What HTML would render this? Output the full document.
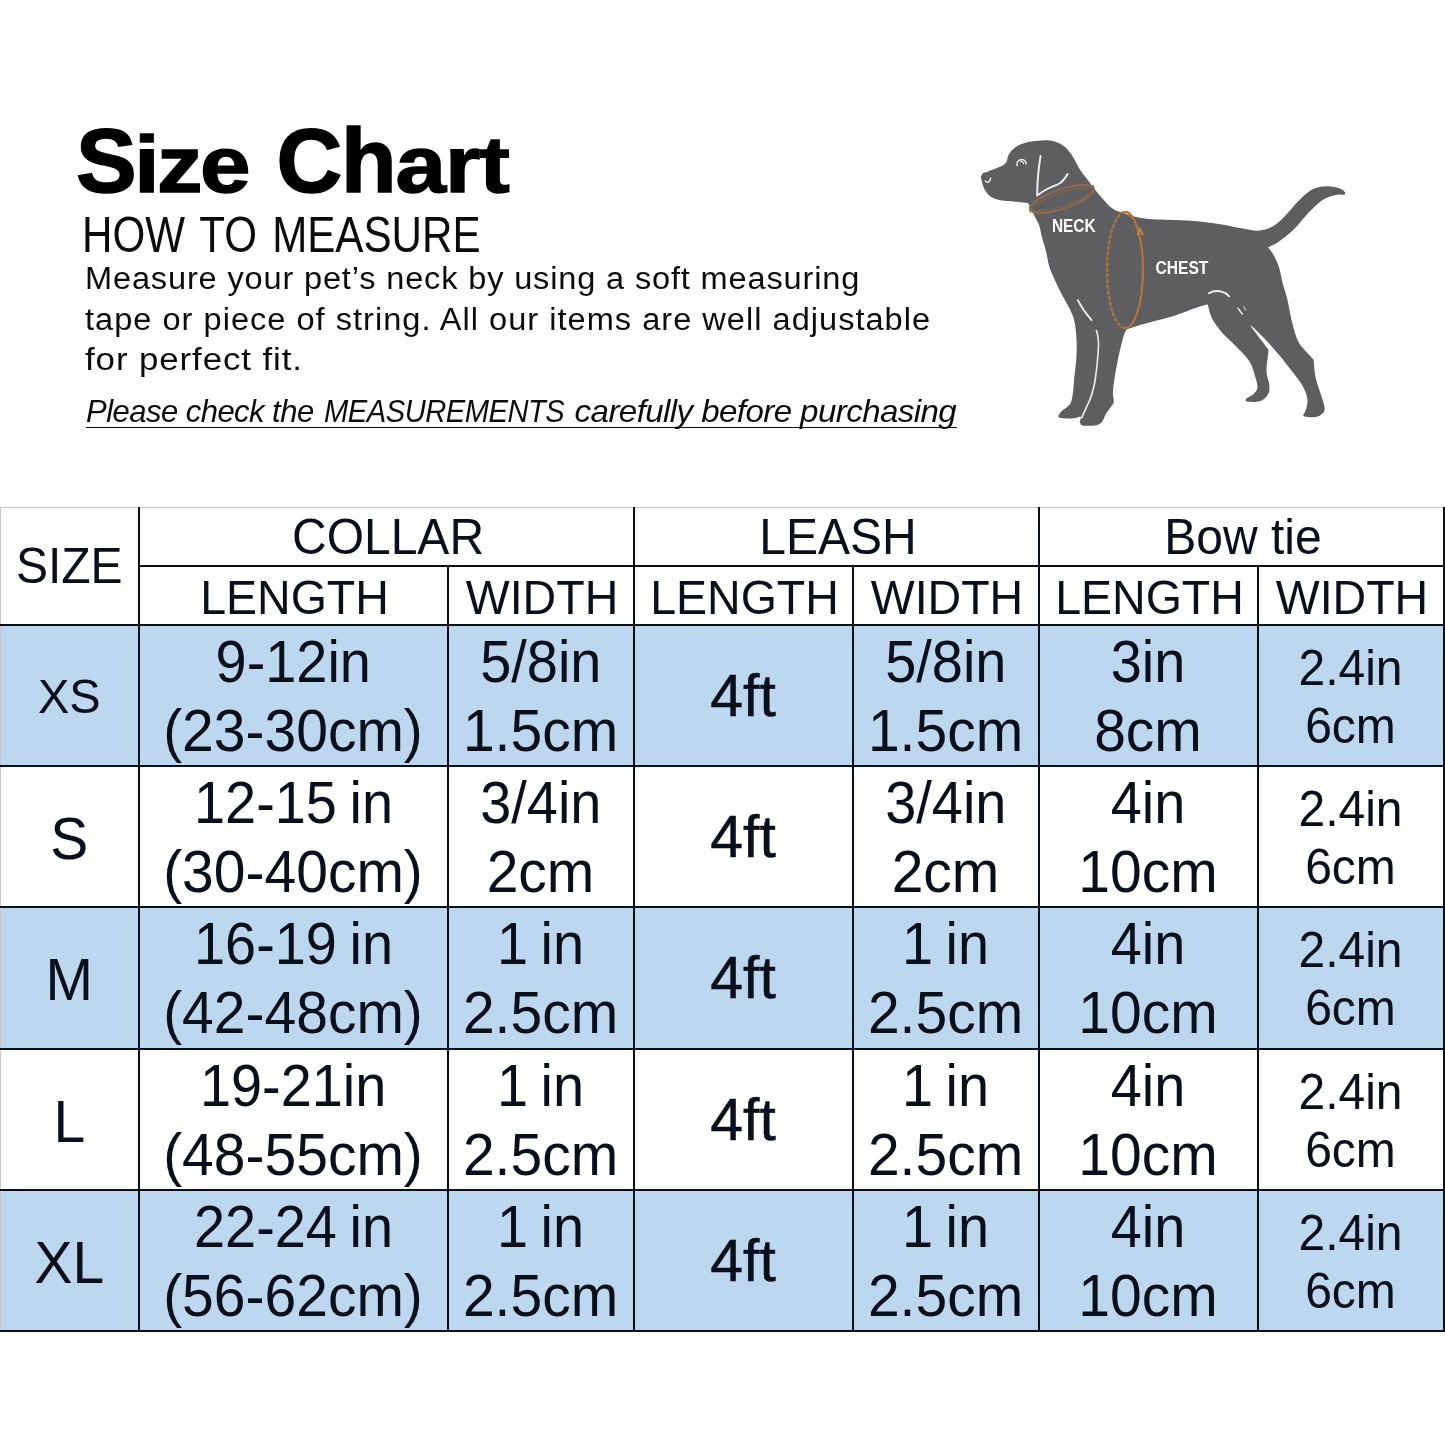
<!DOCTYPE html>
<html lang="en">
<head>
<meta charset="utf-8">
<title>Size Chart</title>
<style>
html,body{margin:0;padding:0;background:#fff;}
body{width:1445px;height:1445px;position:relative;overflow:hidden;font-family:"Liberation Sans",sans-serif;color:#000;}
.abs{position:absolute;white-space:nowrap;transform-origin:0 0;line-height:1;}
.t{font-size:91px;font-weight:bold;-webkit-text-stroke:1.6px #000;top:115px;}
.lc{display:inline-block;transform:scaleY(0.885);transform-origin:0 77px;}
#t1{left:76px;letter-spacing:-2.5px;}
#t2{left:276.5px;letter-spacing:-1.1px;}
#how{left:81.5px;top:210px;font-size:50.3px;color:#0c0c0c;transform:scaleX(0.838);word-spacing:4px;}
.p{font-size:31px;color:#0c0c0c;left:85px;transform:scaleX(1.05);letter-spacing:0.8px;}
#p1{top:263px;}
#p2{top:303.5px;letter-spacing:0.97px;}
#p3{top:343.5px;transform:scaleX(1.125);}
#note{left:86px;top:395.5px;font-size:31.5px;font-style:italic;color:#0c0c0c;transform:scaleX(1.0);letter-spacing:-0.55px;}
.n{position:absolute;top:0;transform-origin:0 0;white-space:pre;}
#n1{left:0;transform:scaleX(0.985);}
#n2{left:238px;transform:scaleX(0.926);}
#n3{left:480px;transform:scaleX(1.05);}
#noteline{position:absolute;left:86px;top:426.5px;width:871px;height:1.8px;background:#111;}
#dog{position:absolute;left:960px;top:120px;width:420px;height:330px;}
#dog text{font-family:"Liberation Sans",sans-serif;font-weight:bold;fill:#fff;}

table{position:absolute;left:0;top:507px;border-collapse:collapse;table-layout:fixed;width:1443px;font-family:"Liberation Sans",sans-serif;color:#0a0f1c;}
td,th{padding:0;text-align:center;vertical-align:top;font-weight:normal;border:2px solid #0a0f1c;overflow:hidden;white-space:nowrap;}
tr.h1 th{height:57px;font-size:48px;line-height:57px;border-top:1px solid #c8c8c8;}
tr.h2 th{height:57px;font-size:47px;line-height:57px;}
th.sz,td.sz{border-left:1px solid #c8c8c8;}
tr.r td{height:139px;font-size:57px;line-height:66px;}
tr.r3 td{height:140px;}
tr.b td{background:#bdd7ee;}
tr.r td.sz{font-size:47px;line-height:139px;}
tr.r td.sm{font-size:48px;line-height:56px;}
tr.r td.ft{font-size:59px;line-height:139px;-webkit-text-stroke:0.5px #0a0f1c;}
td div,th div{position:relative;transform:scaleY(1.04);}
th.sz div{line-height:116px;}
tr.h1 th:not(.sz) div{left:2px;}
tr.h2 th div{transform:scale(0.99,1.04);left:1px;top:0.5px;}
tr.r td div{top:4px;}
.l1{display:inline-block;transform:scaleX(0.98);word-spacing:-3px;}
td.sm .l1{transform:none;}
tr.r td.sz div{top:0px;}
tr.r td.big{font-size:57px;}
tr.r td.big div{top:2px;}
tr.r td.sm div{top:15px;}
tr.r td.ft div{top:1px;transform:none;}
</style>
</head>
<body>
<div id="t1" class="abs t">S<span class="lc">ize</span></div><div id="t2" class="abs t">Ch<span class="lc">art</span></div>
<div id="how" class="abs">HOW TO MEASURE</div>
<div id="p1" class="abs p">Measure your pet’s neck by using a soft measuring</div>
<div id="p2" class="abs p">tape or piece of string. All our items are well adjustable</div>
<div id="p3" class="abs p">for perfect fit.</div>
<div id="note" class="abs"><span class="n" id="n1">Please check the </span><span class="n" id="n2">MEASUREMENTS</span><span class="n" id="n3"> carefully before purchasing</span></div>
<div id="noteline"></div>

<svg id="dog" viewBox="960 120 420 330">
<path d="M980.8 176.7C981.5 175.5 981.8 174.1 983.0 173.2C984.2 172.3 984.4 173.0 988.0 171.5C991.6 170.0 1001.1 167.1 1004.6 164.3C1008.1 161.5 1006.9 157.5 1008.8 154.6C1010.6 151.7 1012.5 149.1 1015.7 147.0C1018.9 144.9 1023.7 143.2 1028.1 142.1C1032.5 141.0 1037.8 140.7 1042.0 140.5C1046.2 140.3 1049.3 140.0 1053.0 141.0C1056.7 142.0 1060.9 143.8 1064.1 146.3C1067.3 148.8 1069.9 152.3 1072.4 156.0C1074.9 159.7 1077.0 164.7 1079.3 168.4C1081.6 172.1 1083.8 174.6 1086.3 178.1C1088.8 181.6 1091.8 185.7 1094.6 189.2C1097.4 192.7 1099.9 195.7 1102.9 198.9C1105.9 202.1 1109.4 206.3 1112.6 208.6C1115.8 210.9 1118.3 211.3 1122.2 212.7C1126.1 214.1 1131.5 215.8 1136.1 216.9C1140.7 218.0 1145.9 218.6 1149.9 219.0C1153.9 219.4 1154.8 219.4 1160.0 219.6C1165.2 219.8 1173.9 220.0 1180.8 220.3C1187.7 220.7 1194.6 221.0 1201.5 221.7C1208.4 222.4 1215.4 223.2 1222.3 224.4C1229.2 225.6 1237.2 227.6 1243.0 228.6C1248.8 229.6 1252.7 230.7 1256.9 230.7C1261.1 230.7 1264.5 229.9 1268.0 228.6C1271.5 227.3 1274.4 225.5 1277.6 223.0C1280.8 220.5 1283.8 217.1 1287.3 213.4C1290.8 209.7 1294.7 204.6 1298.4 200.9C1302.1 197.2 1306.0 193.5 1309.5 191.2C1313.0 188.9 1315.8 187.9 1319.2 187.1C1322.7 186.3 1326.8 186.2 1330.2 186.4C1333.7 186.6 1337.5 187.5 1339.9 188.4C1342.3 189.3 1344.1 190.9 1344.8 191.9C1345.5 192.9 1345.4 194.2 1344.1 194.7C1342.8 195.2 1340.2 194.1 1337.2 194.7C1334.2 195.3 1329.6 196.4 1326.1 198.1C1322.6 199.8 1319.6 202.3 1316.4 205.1C1313.2 207.9 1309.7 211.5 1306.7 214.7C1303.7 217.9 1301.4 221.2 1298.4 224.4C1295.4 227.6 1292.2 231.1 1288.7 234.1C1285.2 237.1 1281.0 240.2 1277.6 242.4C1274.1 244.6 1271.2 245.7 1268.0 247.3C1269.8 249.8 1271.7 251.6 1273.5 254.9C1275.3 258.2 1277.4 262.2 1279.0 267.3C1280.6 272.4 1281.8 280.0 1283.2 285.3C1284.6 290.6 1285.8 293.0 1287.3 299.2C1288.8 305.4 1290.4 315.4 1292.1 322.3C1293.8 329.2 1295.5 335.7 1297.6 340.3C1299.7 344.9 1301.9 346.8 1304.6 350.0C1307.3 353.2 1310.6 356.5 1313.6 359.7C1314.3 365.6 1314.3 371.6 1315.6 377.6C1316.9 383.6 1319.7 390.5 1321.2 395.6C1322.7 400.7 1324.4 405.1 1324.6 408.1C1324.8 411.1 1324.1 412.1 1322.6 413.6C1321.1 415.1 1318.6 416.6 1315.6 417.1C1312.6 417.6 1306.7 416.8 1304.6 416.4C1302.5 416.0 1303.7 415.5 1303.2 415.0C1304.1 413.2 1305.3 412.3 1306.0 409.5C1306.7 406.7 1308.0 402.5 1307.3 398.4C1306.6 394.2 1304.5 389.3 1301.8 384.6C1299.1 379.9 1295.2 375.4 1291.2 370.2C1287.2 365.0 1282.3 358.8 1277.8 353.5C1273.3 348.2 1268.9 343.1 1264.4 338.4C1259.9 333.6 1255.2 329.4 1250.6 325.0C1251.1 325.9 1250.4 325.5 1252.0 327.8C1253.6 330.1 1257.5 335.2 1260.3 338.9C1263.1 342.6 1265.9 346.3 1268.6 350.0C1267.9 356.8 1266.4 364.9 1266.5 370.7C1266.6 376.5 1269.0 380.9 1269.3 384.6C1269.6 388.3 1269.6 390.4 1268.6 392.9C1267.5 395.4 1265.3 398.3 1263.0 399.8C1260.7 401.3 1257.6 401.7 1254.7 401.9C1251.8 402.1 1248.7 401.4 1245.7 401.2C1245.9 400.3 1245.1 399.5 1246.4 398.4C1247.7 397.2 1251.6 396.1 1253.4 394.3C1255.2 392.5 1257.3 390.5 1257.5 387.3C1257.7 384.1 1256.1 379.3 1254.7 374.9C1253.3 370.5 1252.4 365.9 1249.2 361.0C1246.0 356.1 1240.0 350.6 1235.4 345.8C1230.8 341.0 1225.4 336.6 1221.5 332.0C1217.6 327.4 1214.1 322.7 1211.8 318.1C1209.5 313.5 1209.1 308.9 1207.7 304.3C1203.9 305.5 1201.5 306.0 1196.1 307.8C1190.7 309.6 1182.2 313.2 1175.3 315.4C1168.4 317.6 1161.3 319.1 1154.6 320.9C1147.9 322.7 1139.8 325.0 1135.2 326.4C1130.6 327.8 1129.6 328.3 1126.9 329.2C1126.0 331.0 1125.2 331.2 1124.1 334.7C1122.9 338.2 1121.4 344.0 1120.0 350.0C1118.6 356.0 1117.0 363.8 1115.8 370.7C1114.6 377.6 1113.3 386.6 1113.0 391.5C1112.7 396.4 1113.7 397.7 1113.7 399.8C1113.7 401.9 1114.3 401.6 1113.0 403.9C1111.7 406.2 1107.9 410.6 1106.1 413.6C1104.3 416.6 1103.8 419.9 1102.0 421.9C1100.2 423.9 1098.3 424.8 1095.1 425.4C1091.9 426.0 1085.1 426.0 1082.6 425.4C1080.0 424.8 1080.7 423.1 1079.8 421.9C1080.3 420.1 1080.7 418.2 1081.2 416.4C1078.0 417.1 1075.1 418.3 1071.5 418.5C1067.9 418.7 1062.0 418.3 1059.8 417.8C1057.6 417.3 1058.9 416.4 1058.4 415.7C1059.5 414.1 1059.8 412.9 1061.8 410.9C1063.8 408.9 1068.2 406.9 1070.1 403.9C1071.9 400.9 1072.2 397.3 1072.9 392.9C1073.6 388.5 1073.7 383.6 1074.3 377.6C1074.9 371.6 1076.1 363.6 1076.4 356.9C1076.8 350.2 1076.8 343.5 1076.4 337.5C1076.1 331.5 1075.3 325.5 1074.3 320.9C1073.2 316.3 1072.4 314.6 1070.1 309.8C1067.8 305.0 1063.4 297.8 1060.4 291.8C1057.4 285.8 1054.0 278.2 1052.1 273.8C1050.2 269.4 1049.9 269.0 1048.9 265.3C1047.9 261.6 1047.2 256.1 1046.1 251.5C1044.9 246.9 1043.2 242.0 1042.0 237.6C1040.8 233.2 1040.4 228.6 1039.2 225.2C1038.0 221.8 1036.4 219.7 1035.0 216.9C1033.6 214.1 1032.1 210.9 1030.9 208.6C1029.8 206.3 1029.0 204.8 1028.1 203.0C1024.0 202.6 1020.3 202.1 1015.7 201.7C1011.1 201.2 1004.5 201.1 1000.4 200.3C996.2 199.5 993.3 198.4 990.8 196.8C988.3 195.2 986.6 192.8 985.2 190.6C983.8 188.4 983.2 186.0 982.5 183.7C981.8 181.4 981.4 179.0 980.8 176.7Z" fill="#5e5e60"/>
<g fill="none" stroke="#ececed" stroke-linecap="round" stroke-linejoin="round">
<path d="M1040.6 156C1038.5 168 1037.3 182 1037.1 195.6C1042 191.5 1047 188.6 1053 186.4C1057 185 1060.5 183.5 1062 181.5C1064.5 179 1066.2 176.5 1067.6 174" stroke-width="2"/>
<path d="M1017.2 165.6C1016.2 162.3 1018.6 159.6 1021.8 159.5C1024.6 159.6 1026.3 161.6 1026 164" stroke-width="1.5"/>
<path d="M1020.6 161.6C1022.3 161.2 1023.6 162.3 1023.4 164" stroke-width="1.1"/>
<path d="M985.3 180.9C987.2 183.3 990.4 182.3 990.6 178.2" stroke-width="1.4"/>
<path d="M1077.8 300.1C1081.5 307.5 1086.5 314.5 1091.6 320.2" stroke-width="1.8"/>
<path d="M1096.4 330.6C1098.6 336 1098.9 343 1098.2 352C1097.5 362 1096.6 371 1095 381C1093.5 390 1091 398 1087.5 405C1085.4 409.5 1083.5 413.5 1081.9 417.8" stroke-width="1.6"/>
<path d="M1209.1 293.2C1215 289.8 1224 290.3 1229.1 296.3" stroke-width="2"/>
<path d="M1238.1 308.4L1242.3 314" stroke-width="1.5"/>
<path d="M1243.8 306.5L1245.6 310" stroke-width="0.9"/>
</g>
<g fill="none" stroke="#9a6b48" stroke-width="2.4">
<ellipse cx="1062" cy="199" rx="33.5" ry="9.6" transform="rotate(-18.4 1062 199)" stroke="#8f6a4e" stroke-width="2"/>
<ellipse cx="1062.5" cy="199.3" rx="30.5" ry="6.6" transform="rotate(-18.4 1062.5 199.3)" stroke="#8a684f" stroke-width="1.1" opacity="0.75"/>
<path d="M1029.5 206.5l1 6M1092.8 185l1.6 5.6" stroke-width="1.6"/>
<path d="M1125 212A18 58 0 0 1 1125 328" stroke="#b4733c" stroke-width="2.3"/>
<path d="M1125 328A18 58 0 0 1 1125 212" stroke="#a87444" stroke-dasharray="4.2 1.4" stroke-width="2.3"/>
<path d="M1137.6 235.5l2.4-6.5l3 6.3" stroke="#cf863c" stroke-width="1.8"/>
</g>
<text x="1051.9" y="231.8" font-size="17.6" textLength="43.8" lengthAdjust="spacingAndGlyphs">NECK</text>
<text x="1155.4" y="273.9" font-size="17.6" textLength="53" lengthAdjust="spacingAndGlyphs">CHEST</text>
</svg>

<table>
<colgroup><col style="width:138px"><col style="width:309px"><col style="width:186px"><col style="width:219px"><col style="width:186px"><col style="width:219px"><col style="width:186px"></colgroup>
<tr class="h1"><th rowspan="2" class="sz"><div>SIZE</div></th><th colspan="2"><div>COLLAR</div></th><th colspan="2"><div>LEASH</div></th><th colspan="2"><div>Bow tie</div></th></tr>
<tr class="h2"><th><div>LENGTH</div></th><th><div>WIDTH</div></th><th><div>LENGTH</div></th><th><div>WIDTH</div></th><th><div>LENGTH</div></th><th><div>WIDTH</div></th></tr>
<tr class="r b"><td class="sz"><div>XS</div></td><td><div><span class="l1">9-12in</span><br>(23-30cm)</div></td><td><div><span class="l1">5/8in</span><br>1.5cm</div></td><td class="ft"><div>4ft</div></td><td><div><span class="l1">5/8in</span><br>1.5cm</div></td><td><div><span class="l1">3in</span><br>8cm</div></td><td class="sm"><div><span class="l1">2.4in</span><br>6cm</div></td></tr>
<tr class="r"><td class="sz big"><div>S</div></td><td><div><span class="l1">12-15 in</span><br>(30-40cm)</div></td><td><div><span class="l1">3/4in</span><br>2cm</div></td><td class="ft"><div>4ft</div></td><td><div><span class="l1">3/4in</span><br>2cm</div></td><td><div><span class="l1">4in</span><br>10cm</div></td><td class="sm"><div><span class="l1">2.4in</span><br>6cm</div></td></tr>
<tr class="r r3 b"><td class="sz big"><div>M</div></td><td><div><span class="l1">16-19 in</span><br>(42-48cm)</div></td><td><div><span class="l1">1 in</span><br>2.5cm</div></td><td class="ft"><div>4ft</div></td><td><div><span class="l1">1 in</span><br>2.5cm</div></td><td><div><span class="l1">4in</span><br>10cm</div></td><td class="sm"><div><span class="l1">2.4in</span><br>6cm</div></td></tr>
<tr class="r"><td class="sz big"><div>L</div></td><td><div><span class="l1">19-21in</span><br>(48-55cm)</div></td><td><div><span class="l1">1 in</span><br>2.5cm</div></td><td class="ft"><div>4ft</div></td><td><div><span class="l1">1 in</span><br>2.5cm</div></td><td><div><span class="l1">4in</span><br>10cm</div></td><td class="sm"><div><span class="l1">2.4in</span><br>6cm</div></td></tr>
<tr class="r b"><td class="sz big"><div>XL</div></td><td><div><span class="l1">22-24 in</span><br>(56-62cm)</div></td><td><div><span class="l1">1 in</span><br>2.5cm</div></td><td class="ft"><div>4ft</div></td><td><div><span class="l1">1 in</span><br>2.5cm</div></td><td><div><span class="l1">4in</span><br>10cm</div></td><td class="sm"><div><span class="l1">2.4in</span><br>6cm</div></td></tr>
</table>
</body>
</html>
